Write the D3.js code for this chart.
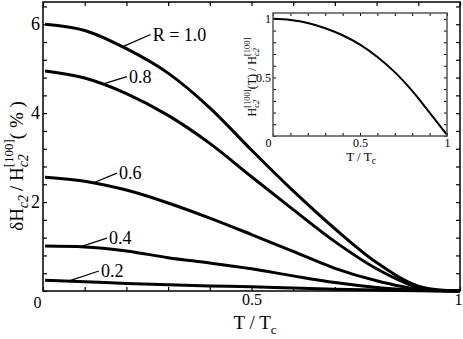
<!DOCTYPE html>
<html>
<head>
<meta charset="utf-8">
<script src="https://cdn.jsdelivr.net/npm/d3@7"></script>
<style>
  body { margin: 0; background: #fff; }
  svg { display: block; }
  svg text { font-family: "Liberation Serif", "DejaVu Serif", serif; }
</style>
</head>
<body>
<svg id="chart" width="463" height="339"></svg>
<script>
var SERIF = "'Liberation Serif', 'DejaVu Serif', serif";

// T / Tc sample points for the main curves
var temps = [0.005, 0.1, 0.2, 0.3, 0.4, 0.5, 0.6, 0.7, 0.8, 0.9, 0.95, 1.0];

// delta Hc2 / Hc2[100] in %, one list per R
var r10 = [6.00, 5.86, 5.45, 4.90, 4.12, 3.17, 2.25, 1.40, 0.64, 0.11, 0.02, 0];
var r08 = [4.95, 4.79, 4.44, 3.95, 3.32, 2.57, 1.83, 1.11, 0.50, 0.08, 0.015, 0];
var r06 = [2.56, 2.47, 2.27, 1.98, 1.64, 1.27, 0.89, 0.51, 0.23, 0.04, 0.01, 0];
var r04 = [1.01, 0.99, 0.90, 0.75, 0.63, 0.50, 0.34, 0.19, 0.08, 0.015, 0.005, 0];
var r02 = [0.24, 0.21, 0.17, 0.14, 0.115, 0.095, 0.065, 0.04, 0.02, 0.005, 0.002, 0];

var seriesNames = ["R = 1.0", "0.8", "0.6", "0.4", "0.2"];
var seriesVals = [r10, r08, r06, r04, r02];

// label annotations: T where the leader leaves the curve, then label point (T, value)
var leaderT = [0.19, 0.141, 0.12, 0.089, 0.061];
var labelT = [0.263, 0.206, 0.182, 0.158, 0.139];
var labelV = [5.77, 4.82, 2.65, 1.19, 0.45];

// inset: normalised Hc2[100](T)
var insetT = [0, 0.1, 0.2, 0.3, 0.4, 0.5, 0.6, 0.7, 0.8, 0.9, 1.0];
var insetV = [1.0, 0.99, 0.965, 0.92, 0.86, 0.78, 0.675, 0.545, 0.385, 0.2, 0.01];

// tick values
var xTicks = d3.range(0, 11).map(function(i) { return i / 10; });
var yTicks = d3.range(0, 17).map(function(i) { return i * 0.4; });
var insetYTicks = d3.range(0, 11).map(function(i) { return i / 10; });

var svg = d3.select("#chart");

// lays out a line of mixed-size text (subscripts / stacked superscripts)
function richText(g, pieces, anchor) {
  var cursor = 0, prevX = 0, prevEnd = 0;
  var nodes = [];
  pieces.forEach(function(p) {
    var x = p.stack ? prevX : cursor;
    var t = g.append("text")
      .attr("x", x)
      .attr("y", p.dy || 0)
      .attr("font-family", SERIF)
      .attr("font-size", p.size)
      .style("font-style", p.italic ? "italic" : "normal")
      .text(p.text);
    var w = t.node().getComputedTextLength();
    if (p.stack) {
      cursor = Math.max(prevEnd, x + w);
    } else {
      prevX = x;
      prevEnd = x + w;
      cursor = x + w;
    }
    nodes.push(t);
  });
  var shift = anchor === "middle" ? -cursor / 2 : 0;
  nodes.forEach(function(t) { t.attr("x", +t.attr("x") + shift); });
}

function styleTicks(g, size) {
  g.attr("font-family", SERIF);
  g.selectAll("text").attr("font-size", size).attr("font-family", SERIF).attr("fill", "#000");
}

// ---------- main chart ----------
var x = d3.scaleLinear().domain([0, 1]).range([43, 460]);
var y = d3.scaleLinear().domain([0, 6.5]).range([291, 2]);

var line = d3.line()
  .x(function(d) { return x(d[0]); })
  .y(function(d) { return y(d[1]); })
  .curve(d3.curveMonotoneX);

seriesVals.forEach(function(vals) {
  svg.append("path")
    .datum(temps.map(function(t, i) { return [t, vals[i]]; }))
    .attr("d", line)
    .attr("fill", "none")
    .attr("stroke", "#000")
    .attr("stroke-width", 3);
});

// leaders and labels
seriesVals.forEach(function(vals, i) {
  var onCurve = d3.scaleLinear().domain(temps).range(vals);
  var t0 = leaderT[i];
  svg.append("line")
    .attr("x1", x(t0)).attr("y1", y(onCurve(t0)))
    .attr("x2", x(labelT[i]) - 2).attr("y2", y(labelV[i]))
    .attr("stroke", "#000").attr("stroke-width", 1.2);
  svg.append("text")
    .attr("x", x(labelT[i]))
    .attr("y", y(labelV[i]))
    .attr("dy", "0.35em")
    .attr("font-family", SERIF)
    .attr("font-size", 18)
    .text(seriesNames[i]);
});

function isLabelY(d) {
  var r = Math.round(d);
  return Math.abs(d - r) < 1e-6 && r > 0 && r % 2 === 0;
}

var xAxis = svg.append("g")
  .attr("transform", "translate(0,291)")
  .call(d3.axisBottom(x).tickValues(xTicks).tickSizeInner(-4).tickSizeOuter(0).tickPadding(3)
    .tickFormat(function(d) { return (Math.abs(d - 0.5) < 1e-6 || d === 0 || d === 1) ? d3.format("")(d) : ""; }));
styleTicks(xAxis, 16);
xAxis.selectAll("text").filter(function(d) { return d === 0; }).attr("dx", -6).attr("dy", "0.9em");
xAxis.selectAll("text").filter(function(d) { return d === 1; }).attr("dx", -2);

svg.append("g")
  .attr("transform", "translate(0,2)")
  .call(d3.axisTop(x).tickValues(xTicks).tickSizeInner(-4).tickSizeOuter(0).tickFormat(""));

var yAxis = svg.append("g")
  .attr("transform", "translate(43,0)")
  .call(d3.axisLeft(y).tickValues(yTicks).tickSizeInner(-4).tickSizeOuter(0).tickPadding(3)
    .tickFormat(function(d) { return isLabelY(d) ? Math.round(d) : ""; }));
styleTicks(yAxis, 18);

svg.append("g")
  .attr("transform", "translate(460,0)")
  .call(d3.axisRight(y).tickValues(yTicks).tickSizeInner(-4).tickSizeOuter(0).tickFormat(""));

svg.selectAll(".domain").remove();
svg.selectAll(".tick line").attr("stroke", "#000").attr("stroke-width", 1.2);

svg.append("rect")
  .attr("x", 43).attr("y", 2).attr("width", 417).attr("height", 289)
  .attr("fill", "none").attr("stroke", "#000").attr("stroke-width", 1.5);

// axis titles
richText(svg.append("g").attr("transform", "translate(255,329)"), [
  { text: "T / T", size: 19 },
  { text: "c", size: 13, dy: 5 }
], "middle");

richText(svg.append("g").attr("transform", "translate(23,166) rotate(-90)"), [
  { text: "\u03b4H", size: 19 },
  { text: "c2", size: 14, dy: 5, italic: true },
  { text: "\u2009/ H", size: 19 },
  { text: "c2", size: 14, dy: 5, italic: true },
  { text: "[100]", size: 13, dy: -10, stack: true },
  { text: " ( % )", size: 19 }
], "middle");

// ---------- inset ----------
var ix = d3.scaleLinear().domain([0, 1]).range([273, 447]);
var iy = d3.scaleLinear().domain([0, 1.05]).range([136, 13]);

svg.append("rect")
  .attr("x", 273).attr("y", 13).attr("width", 174).attr("height", 123)
  .attr("fill", "#fff");

svg.append("path")
  .datum(insetT.map(function(t, i) { return [t, insetV[i]]; }))
  .attr("d", d3.line().x(function(d) { return ix(d[0]); }).y(function(d) { return iy(d[1]); }).curve(d3.curveMonotoneX))
  .attr("fill", "none").attr("stroke", "#000").attr("stroke-width", 2);

var ixAxis = svg.append("g")
  .attr("transform", "translate(0,136)")
  .call(d3.axisBottom(ix).tickValues(xTicks).tickSizeInner(-3).tickSizeOuter(0).tickPadding(2)
    .tickFormat(function(d) { return (d === 0 || d === 1 || Math.abs(d - 0.5) < 1e-6) ? d3.format("")(d) : ""; }));
styleTicks(ixAxis, 12);
ixAxis.selectAll("text").filter(function(d) { return d === 0; }).attr("dx", -5);

svg.append("g")
  .attr("transform", "translate(0,13)")
  .call(d3.axisTop(ix).tickValues(xTicks).tickSizeInner(-3).tickSizeOuter(0).tickFormat(""));

var iyAxis = svg.append("g")
  .attr("transform", "translate(273,0)")
  .call(d3.axisLeft(iy).tickValues(insetYTicks).tickSizeInner(-3).tickSizeOuter(0).tickPadding(2)
    .tickFormat(function(d) { return (d === 1 || Math.abs(d - 0.5) < 1e-6) ? d3.format("")(d) : ""; }));
styleTicks(iyAxis, 12);

svg.append("g")
  .attr("transform", "translate(447,0)")
  .call(d3.axisRight(iy).tickValues(insetYTicks).tickSizeInner(-3).tickSizeOuter(0).tickFormat(""));

svg.selectAll(".domain").remove();
svg.selectAll(".tick line").attr("stroke", "#000");

svg.append("rect")
  .attr("x", 273).attr("y", 13).attr("width", 174).attr("height", 123)
  .attr("fill", "none").attr("stroke", "#555").attr("stroke-width", 1.5);

richText(svg.append("g").attr("transform", "translate(361,161)"), [
  { text: "T / T", size: 13 },
  { text: "c", size: 9.5, dy: 3 }
], "middle");

richText(svg.append("g").attr("transform", "translate(256,77) rotate(-90)"), [
  { text: "H", size: 12 },
  { text: "c2", size: 8.5, dy: 3, italic: true },
  { text: "[100]", size: 8.5, dy: -6.5, stack: true },
  { text: "(T) / H", size: 12 },
  { text: "c2", size: 8.5, dy: 3, italic: true },
  { text: "[100]", size: 8.5, dy: -6.5, stack: true }
], "middle");
</script>
</body>
</html>
